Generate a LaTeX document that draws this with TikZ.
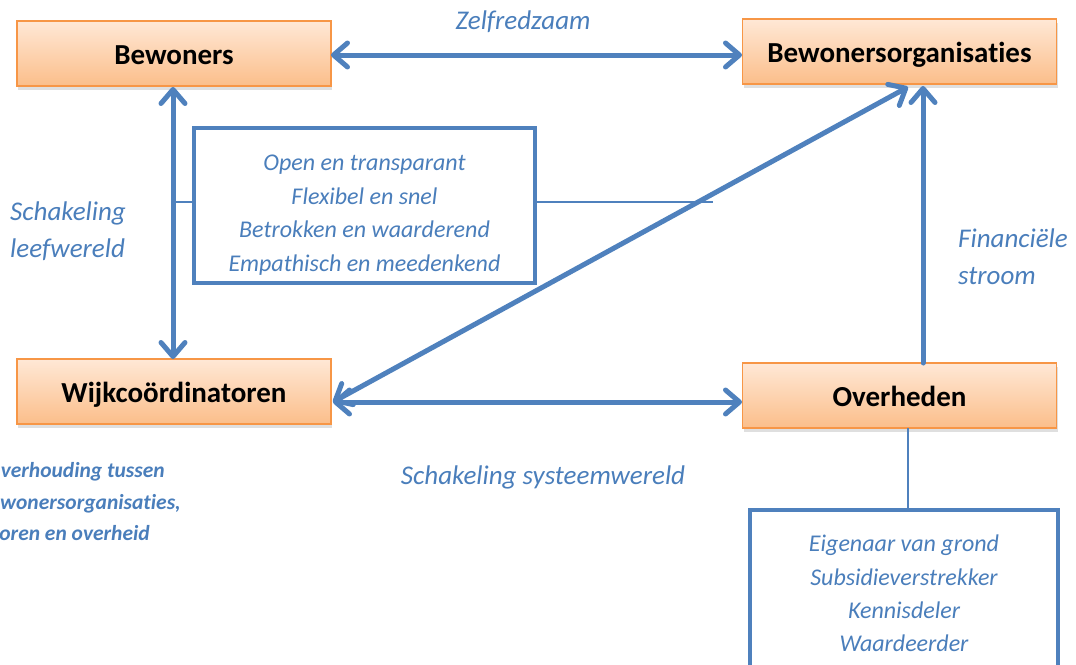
\documentclass[tikz,border=0pt]{standalone}
\usepackage{fontspec}
\setmainfont{Carlito}[Ligatures=NoCommon]
\usetikzlibrary{arrows.meta,shadows}
\definecolor{arrowblue}{HTML}{4F81BD}
\definecolor{textblue}{HTML}{4A7EBB}
\definecolor{boxborder}{HTML}{F79646}
\definecolor{boxtop}{HTML}{FFE8D6}
\definecolor{boxbot}{HTML}{FBBE8A}
\tikzset{
  actor/.style={draw=boxborder, line width=1.5pt, top color=boxtop, bottom color=boxbot,
    minimum width=314pt, minimum height=65pt, inner sep=0pt, text height=22pt, text depth=1pt,
    font=\fontsize{29}{33}\selectfont\bfseries, text=black,
    drop shadow={shadow xshift=1pt, shadow yshift=-4pt, opacity=0.25}},
  infobox/.style={draw=arrowblue, line width=4pt, fill=white, inner sep=0pt},
  infotext/.style={text=textblue, font=\fontsize{24}{28}\selectfont\itshape},
  labeltext/.style={text=textblue, font=\fontsize{27}{31}\selectfont\itshape},
  bigarrow/.style={draw=arrowblue, line width=5pt, line cap=round,
    {Straight Barb[length=14pt,width=24pt,round]}-{Straight Barb[length=14pt,width=24pt,round]}},
  onearrow/.style={draw=arrowblue, line width=5pt, line cap=round,
    -{Straight Barb[length=14pt,width=24pt,round]}},
  thinline/.style={draw=arrowblue, line width=1.5pt},
  captext/.style={text=textblue, font=\fontsize{21.5}{25}\selectfont\bfseries\itshape, inner sep=0pt}
}
\begin{document}
\begin{tikzpicture}[x=1pt,y=-1pt]
\useasboundingbox (0,0) rectangle (1076,664);
\clip (0,0) rectangle (1076,664);

% actors
\node[actor] (bew) at (174,53.5) {Bewoners};
\node[actor] (org) at (899.5,51.5) {Bewonersorganisaties};
\node[actor] (wijk) at (174,391.5) {Wijkco\"ordinatoren};
\node[actor] (ovh) at (899.5,395.5) {Overheden};

% info boxes
\node[infobox, minimum width=341pt, minimum height=155pt] (mid) at (364.5,205.5) {};
\node[infotext, anchor=base] (m1) at (364.5,170) {Open en transparant};
\node[infotext, anchor=base] (m2) at (364.5,204) {Flexibel en snel};
\node[infotext, anchor=base] (m3) at (364.5,237) {Betrokken en waarderend};
\node[infotext, anchor=base] (m4) at (364.5,271) {Empathisch en meedenkend};

\node[infobox, minimum width=308pt, minimum height=190pt] (rol) at (904,605) {};
\node[infotext, anchor=base] (r1) at (904,551) {Eigenaar van grond};
\node[infotext, anchor=base] (r2) at (904,585) {Subsidieverstrekker};
\node[infotext, anchor=base] (r3) at (904,618) {Kennisdeler};
\node[infotext, anchor=base] (r4) at (904,651) {Waardeerder};

% coordinates for connectors
\coordinate (bewR) at (331,55);
\coordinate (orgL) at (742,55);
\coordinate (bewB) at (173,87);
\coordinate (wijkT) at (173,359);
\coordinate (wijkR) at (333,402);
\coordinate (ovhL) at (742,402);
\coordinate (orgB) at (908,87);
\coordinate (ovhT) at (923,363);
\coordinate (orgB2) at (923,86);
\coordinate (vline) at (173,202);
\coordinate (midL) at (194,202);
\coordinate (midR) at (535,202);
\coordinate (rline) at (713,202);
\coordinate (ovhB) at (908,428);
\coordinate (rolT) at (908,510);

% thin connectors
\draw[thinline] (vline) -- (midL);
\draw[thinline] (midR) -- (rline);
\draw[thinline] (ovhB) -- (rolT);

% arrows
\draw[bigarrow] (bewR) -- (orgL);
\draw[bigarrow] (bewB) -- (wijkT);
\draw[bigarrow] (wijkR) -- (ovhL);
\draw[bigarrow] (wijkR) -- (orgB);
\draw[onearrow] (ovhT) -- (orgB2);

% labels
\node[labeltext, anchor=base] (zelf) at (523,29) {Zelfredzaam};
\node[labeltext, anchor=base west, inner sep=0pt] (sl1) at (10,220) {Schakeling};
\node[labeltext, anchor=base west, inner sep=0pt] (sl2) at (10,257) {leefwereld};
\node[labeltext, anchor=base west, inner sep=0pt] (fs1) at (958,247) {Financi\"ele};
\node[labeltext, anchor=base west, inner sep=0pt] (fs2) at (958,284) {stroom};
\node[labeltext, anchor=base] (sys) at (543,484) {Schakeling systeemwereld};

\node[captext, anchor=base east] (c1) at (165,477) {verhouding tussen};
\node[captext, anchor=base east] (c2) at (181,509) {wonersorganisaties,};
\node[captext, anchor=base east] (c3) at (150,540) {oren en overheid};
\end{tikzpicture}
\end{document}
